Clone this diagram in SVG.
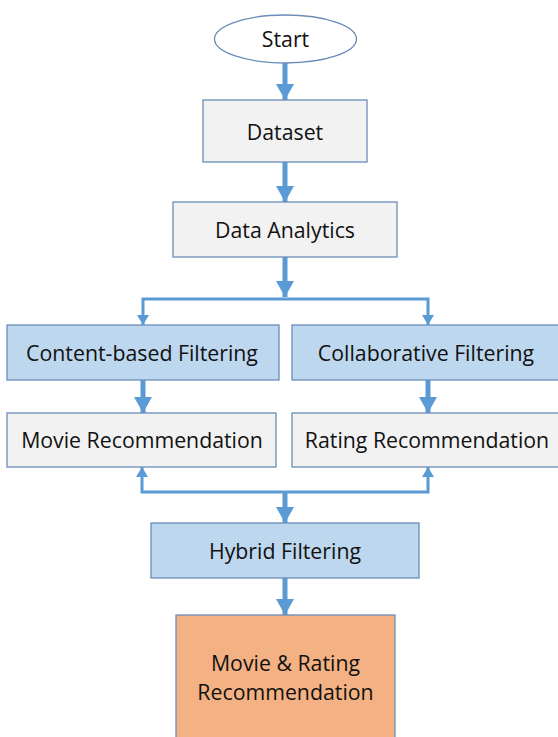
<svg xmlns="http://www.w3.org/2000/svg" width="558" height="737" viewBox="0 0 558 737">
<defs>
<style>
.gray{fill:#F2F2F2;stroke:#6A8CB8;stroke-width:1.3}
.blue{fill:#BDD7EE;stroke:#6A8CB8;stroke-width:1.3}
.orange{fill:#F4B183;stroke:#6A8CB8;stroke-width:1.3}
.t{font-family:"Open Sans","Liberation Sans",sans-serif;font-size:21.3px;fill:#111;text-anchor:middle;dominant-baseline:central}
.thick{fill:none;stroke:#5B9BD5;stroke-width:5}
.thin{fill:none;stroke:#5B9BD5;stroke-width:3}
</style>
<marker id="big" markerUnits="userSpaceOnUse" markerWidth="18" markerHeight="18" refX="16" refY="9" orient="auto"><path d="M0,0 L16,9 L0,18 Z" fill="#5B9BD5"/></marker>
<marker id="small" markerUnits="userSpaceOnUse" markerWidth="12" markerHeight="12" refX="10" refY="6" orient="auto"><path d="M0,0 L10,6 L0,12 Z" fill="#5B9BD5"/></marker>
</defs>
<g id="connectors">
<path class="thick" d="M285,63 V100" marker-end="url(#big)"/>
<path class="thick" d="M285,162 V202" marker-end="url(#big)"/>
<path class="thick" d="M285,257 V297" marker-end="url(#big)"/>
<path class="thin" d="M285,299 H143 V325" marker-end="url(#small)"/>
<path class="thin" d="M285,299 H428 V325" marker-end="url(#small)"/>
<path class="thick" d="M143,380 V413" marker-end="url(#big)"/>
<path class="thick" d="M428,380 V413" marker-end="url(#big)"/>
<path class="thin" d="M285,492 H142 V467" marker-end="url(#small)"/>
<path class="thin" d="M285,492 H428 V467" marker-end="url(#small)"/>
<path class="thick" d="M285,491 V523" marker-end="url(#big)"/>
<path class="thick" d="M285,578 V615" marker-end="url(#big)"/>
</g>
<g id="start"><ellipse class="gray" style="fill:#fff" cx="285.5" cy="39" rx="71" ry="24"/><text class="t" x="285.5" y="38">Start</text></g>
<g id="dataset"><rect class="gray" x="203" y="100" width="164" height="62"/><text class="t" x="285" y="131">Dataset</text></g>
<g id="analytics"><rect class="gray" x="173" y="202" width="224" height="55"/><text class="t" x="285" y="229">Data Analytics</text></g>
<g id="content"><rect class="blue" x="7" y="325" width="272" height="55"/><text class="t" x="142" y="352">Content-based Filtering</text></g>
<g id="collab"><rect class="blue" x="292" y="325" width="270" height="55"/><text class="t" x="426" y="352">Collaborative Filtering</text></g>
<g id="movie"><rect class="gray" x="7" y="413" width="269" height="54"/><text class="t" x="142" y="439">Movie Recommendation</text></g>
<g id="rating"><rect class="gray" x="292" y="413" width="270" height="54"/><text class="t" x="427" y="439">Rating Recommendation</text></g>
<g id="hybrid"><rect class="blue" x="151" y="523" width="268" height="55"/><text class="t" x="285" y="550">Hybrid Filtering</text></g>
<g id="final"><rect class="orange" x="176" y="615" width="219" height="130"/><text class="t" x="285.5" y="662">Movie &amp; Rating</text><text class="t" x="285.5" y="691">Recommendation</text></g>
</svg>
